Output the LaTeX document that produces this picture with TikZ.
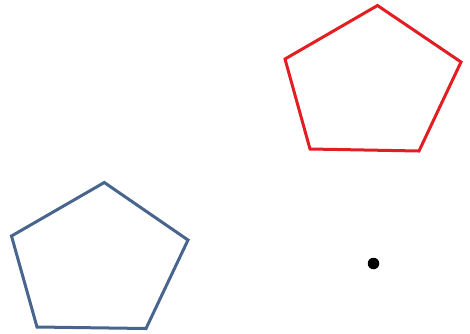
\documentclass[tikz,border=0pt]{standalone}
\definecolor{pentred}{RGB}{226,30,34}
\definecolor{pentblue}{RGB}{72,101,143}
\begin{document}
\begin{tikzpicture}[x=1pt,y=-1pt,
  redpent/.style={draw=pentred,line width=3pt,line join=miter},
  bluepent/.style={draw=pentblue,line width=3pt,line join=miter}]
\useasboundingbox[fill=white] (0,0) rectangle (470,333);
% red pentagon
\coordinate (r1) at (377.5,5.5);
\coordinate (r2) at (461,62);
\coordinate (r3) at (419,151);
\coordinate (r4) at (310,149);
\coordinate (r5) at (285,59);
\draw[redpent] (r1) -- (r2) -- (r3) -- (r4) -- (r5) -- cycle;
% blue pentagon
\coordinate (b1) at (104.3,182.5);
\coordinate (b2) at (188,240);
\coordinate (b3) at (146,328.5);
\coordinate (b4) at (37,327);
\coordinate (b5) at (11.5,236);
\draw[bluepent] (b1) -- (b2) -- (b3) -- (b4) -- (b5) -- cycle;
% dot
\node[circle,fill=black,inner sep=0pt,minimum size=11.5pt] (dot) at (373.5,263.5) {};
\end{tikzpicture}
\end{document}
